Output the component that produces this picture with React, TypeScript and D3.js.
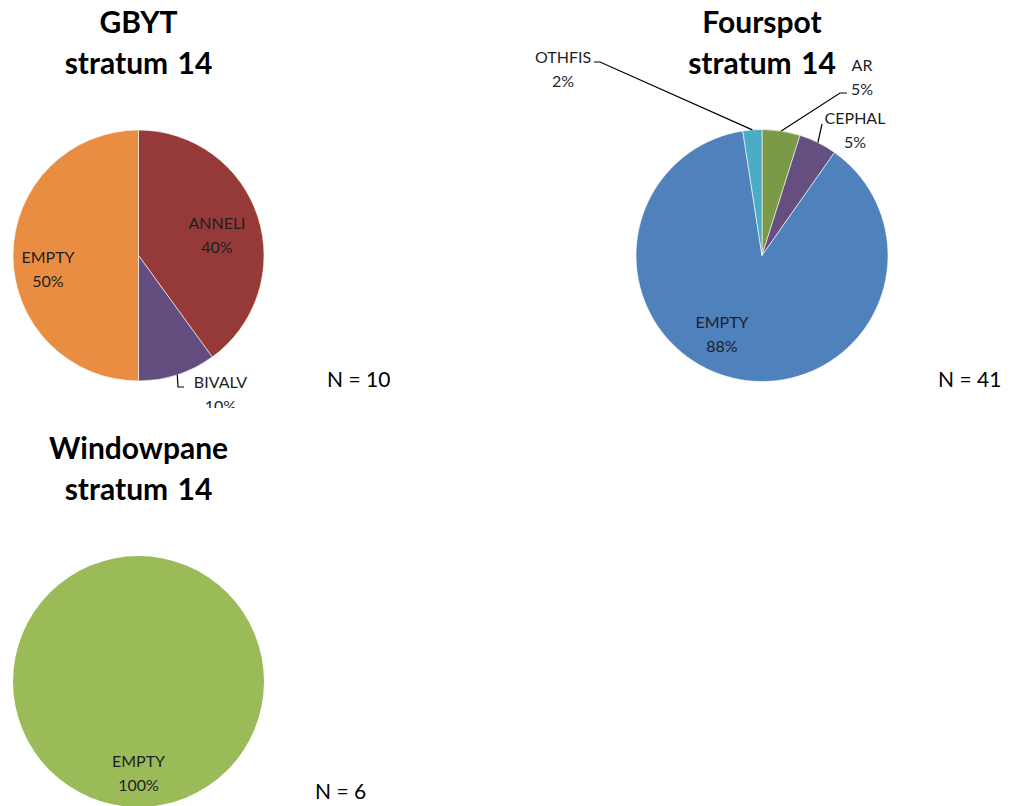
import React from "react";
import * as d3 from "d3";

// Stomach-content counts per species (stratum 14)
const gbytCategories = ["ANNELI", "BIVALV", "EMPTY"];
const gbytCounts = [4, 1, 5];
const gbytColors = ["#953A38", "#634C7E", "#E88D42"];

const fourspotCategories = ["AR", "CEPHAL", "EMPTY", "OTHFIS"];
const fourspotCounts = [2, 2, 36, 1];
const fourspotColors = ["#7A9A47", "#654E80", "#4F81BD", "#4BACC6"];

const windowpaneCategories = ["EMPTY"];
const windowpaneCounts = [6];
const windowpaneColors = ["#9BBB59"];

const FONT = "Lato, 'Liberation Sans', sans-serif";

type LabelLayout = { dx: number; dy: number; leader?: [number, number][] };

type PieSpec = {
  title: string[];
  categories: string[];
  counts: number[];
  colors: string[];
  cx: number;
  cy: number;
  r: number;
  clipBottom: number;
  nX: number;
  nY: number;
  labels: LabelLayout[];
};

const pies: PieSpec[] = [
  {
    title: ["GBYT", "stratum 14"],
    categories: gbytCategories,
    counts: gbytCounts,
    colors: gbytColors,
    cx: 138.5,
    cy: 255.5,
    r: 125.5,
    clipBottom: 408,
    nX: 327,
    nY: 387,
    labels: [
      { dx: 78.5, dy: -20.5 },
      { dx: 82, dy: 139, leader: [[39.5, 131.5], [45.5, 131.5]] },
      { dx: -90.5, dy: 14 },
    ],
  },
  {
    title: ["Fourspot", "stratum 14"],
    categories: fourspotCategories,
    counts: fourspotCounts,
    colors: fourspotColors,
    cx: 762,
    cy: 255.5,
    r: 126,
    clipBottom: 410,
    nX: 938,
    nY: 387,
    labels: [
      { dx: 100, dy: -178, leader: [[78, -162.5], [85, -162.5]] },
      { dx: 93, dy: -125, leader: [[60, -131.5]] },
      { dx: -40, dy: 79 },
      { dx: -199, dy: -186, leader: [[-162, -193.5], [-168, -193.5]] },
    ],
  },
  {
    title: ["Windowpane", "stratum 14"],
    categories: windowpaneCategories,
    counts: windowpaneCounts,
    colors: windowpaneColors,
    cx: 138.5,
    cy: 681.5,
    r: 125.5,
    clipBottom: 806,
    nX: 315,
    nY: 799,
    labels: [{ dx: 0, dy: 92 }],
  },
];

function Pie({ spec, idx }: { spec: PieSpec; idx: number }) {
  const total = d3.sum(spec.counts);
  const arcs = d3
    .pie<number>()
    .sort(null)
    .value((d) => d)(spec.counts);
  const arcGen = d3.arc<d3.PieArcDatum<number>>().innerRadius(0).outerRadius(spec.r);
  const edgeGen = d3.arc<d3.PieArcDatum<number>>().innerRadius(spec.r).outerRadius(spec.r);
  const clipId = `clip-${idx}`;
  return (
    <g>
      <defs>
        <clipPath id={clipId}>
          <rect x={0} y={0} width={1012} height={spec.clipBottom} />
        </clipPath>
      </defs>
      <g clipPath={`url(#${clipId})`}>
        {spec.title.map((t, i) => (
          <text
            key={i}
            x={spec.cx}
            y={spec.cy - 222.5 + i * 41}
            textAnchor="middle"
            fontFamily={FONT}
            fontWeight="bold"
            fontSize={30}
            wordSpacing={2}
            fill="#000"
          >
            {t}
          </text>
        ))}
        <g transform={`translate(${spec.cx},${spec.cy})`}>
          {arcs.map((a, i) =>
            a.endAngle - a.startAngle >= 2 * Math.PI - 1e-9 ? (
              <circle key={i} r={spec.r} fill={spec.colors[i]} />
            ) : (
              <path
                key={i}
                d={arcGen(a) || ""}
                fill={spec.colors[i]}
                stroke="#fff"
                strokeWidth={0.6}
              />
            )
          )}
          {arcs.map((a, i) => {
            const lab = spec.labels[i];
            if (!lab || !lab.leader) return null;
            const start = edgeGen.centroid(a);
            const pts: [number, number][] = [start, ...lab.leader];
            return (
              <path
                key={`l${i}`}
                d={d3.line()(pts) || ""}
                fill="none"
                stroke="#000"
                strokeWidth={1.2}
              />
            );
          })}
          {arcs.map((a, i) => {
            const lab = spec.labels[i];
            const pct = Math.round((a.data / total) * 100);
            return (
              <text
                key={`t${i}`}
                textAnchor="middle"
                fontFamily={FONT}
                fontSize={16}
                fill="#1f1f1f"
              >
                <tspan x={lab.dx} y={lab.dy - 6.5}>
                  {spec.categories[i]}
                </tspan>
                <tspan x={lab.dx} y={lab.dy + 17.5}>
                  {`${pct}%`}
                </tspan>
              </text>
            );
          })}
        </g>
        <text x={spec.nX} y={spec.nY} fontFamily={FONT} fontSize={21} fill="#000">
          {`N = ${total}`}
        </text>
      </g>
    </g>
  );
}

export default function App() {
  return (
    <svg
      width={1012}
      height={806}
      style={{ position: "absolute", left: 0, top: 0, background: "#fff" }}
    >
      <rect width={1012} height={806} fill="#fff" />
      {pies.map((p, i) => (
        <Pie key={i} spec={p} idx={i} />
      ))}
    </svg>
  );
}
